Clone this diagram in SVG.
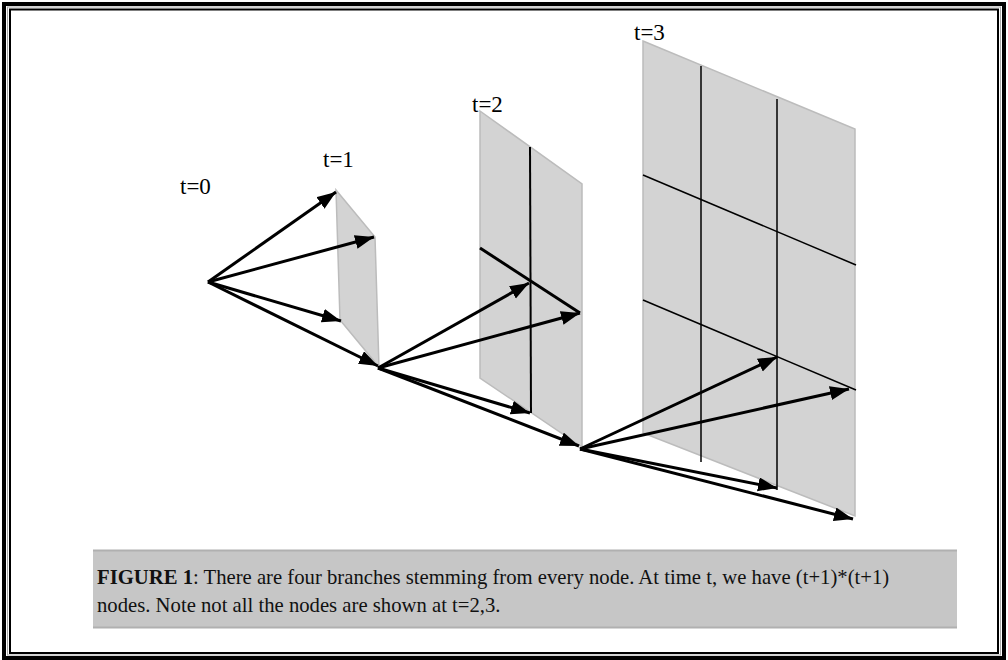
<svg xmlns="http://www.w3.org/2000/svg" width="1008" height="660" viewBox="0 0 1008 660">
<style>
.plane{fill:#d3d3d3;stroke:#bcbcbc;stroke-width:1.5}
.grid{stroke:#000;stroke-width:1.5;fill:none}
.arr{stroke:#000;stroke-width:3;fill:none;marker-end:url(#ah)}
.lbl{font-family:"Liberation Serif","Times New Roman",serif;font-size:23px;fill:#000}
.cap{font-family:"Liberation Serif","Times New Roman",serif;font-size:20.7px;fill:#111}
</style>
<defs>
<marker id="ah" markerUnits="userSpaceOnUse" markerWidth="21" markerHeight="15" refX="19" refY="7" orient="auto">
<path d="M0,0 L19,7 L0,14 z" fill="#000"/>
</marker>
</defs>
<g id="frame" fill="none">
<rect x="4" y="4" width="1000" height="654" stroke="#000" stroke-width="4"/>
<rect x="7.5" y="7" width="993" height="648" stroke="#a8a8a8" stroke-width="1"/>
<rect x="10" y="9.5" width="988" height="643.5" stroke="#000" stroke-width="2"/>
</g>
<g id="plane-t1">
<polygon class="plane" points="336,190 375,237 379,367 340,320"/>
<text class="lbl" x="323" y="167">t=1</text>
</g>
<g id="plane-t2">
<polygon class="plane" points="480,111 582,184 582,447 480,378"/>
<line x1="530" y1="147" x2="531" y2="413" stroke="#000" stroke-width="2"/>
<line x1="480" y1="248" x2="580" y2="313" stroke="#000" stroke-width="3"/>
<text class="lbl" x="472" y="112">t=2</text>
</g>
<g id="plane-t3">
<polygon class="plane" points="643,41 855,129 855,516 643,433"/>
<line class="grid" x1="701" y1="66" x2="701" y2="462"/>
<line class="grid" x1="777" y1="99" x2="777" y2="490"/>
<line class="grid" x1="643" y1="175" x2="856" y2="265"/>
<line class="grid" x1="643" y1="300" x2="856" y2="390"/>
<text class="lbl" x="634" y="40">t=3</text>
</g>
<g id="node-t0">
<text class="lbl" x="180" y="194">t=0</text>
</g>
<g id="connectors">
<line class="arr" x1="208" y1="282" x2="336" y2="192"/>
<line class="arr" x1="208" y1="282" x2="374" y2="237"/>
<line class="arr" x1="208" y1="282" x2="341" y2="321"/>
<line class="arr" x1="208" y1="282" x2="378" y2="366"/>
<line class="arr" x1="378" y1="368" x2="529" y2="283"/>
<line class="arr" x1="378" y1="368" x2="580" y2="313"/>
<line class="arr" x1="378" y1="368" x2="530" y2="413"/>
<line class="arr" x1="378" y1="368" x2="579" y2="446"/>
<line class="arr" x1="580" y1="449" x2="777" y2="357"/>
<line class="arr" x1="580" y1="449" x2="849" y2="389"/>
<line class="arr" x1="580" y1="449" x2="777" y2="488"/>
<line class="arr" x1="580" y1="449" x2="853" y2="519"/>
</g>
<g id="caption">
<rect x="93" y="550" width="864" height="78" fill="#c6c6c6"/>
<line x1="93" y1="550.5" x2="957" y2="550.5" stroke="#b0b0b0" stroke-width="2"/>
<line x1="93" y1="627.5" x2="957" y2="627.5" stroke="#b0b0b0" stroke-width="2"/>
<text class="cap" x="97" y="584"><tspan font-weight="bold">FIGURE 1</tspan>: There are four branches stemming from every node. At time t, we have (t+1)*(t+1)</text>
<text class="cap" x="97" y="612">nodes. Note not all the nodes are shown at t=2,3.</text>
</g>
</svg>
